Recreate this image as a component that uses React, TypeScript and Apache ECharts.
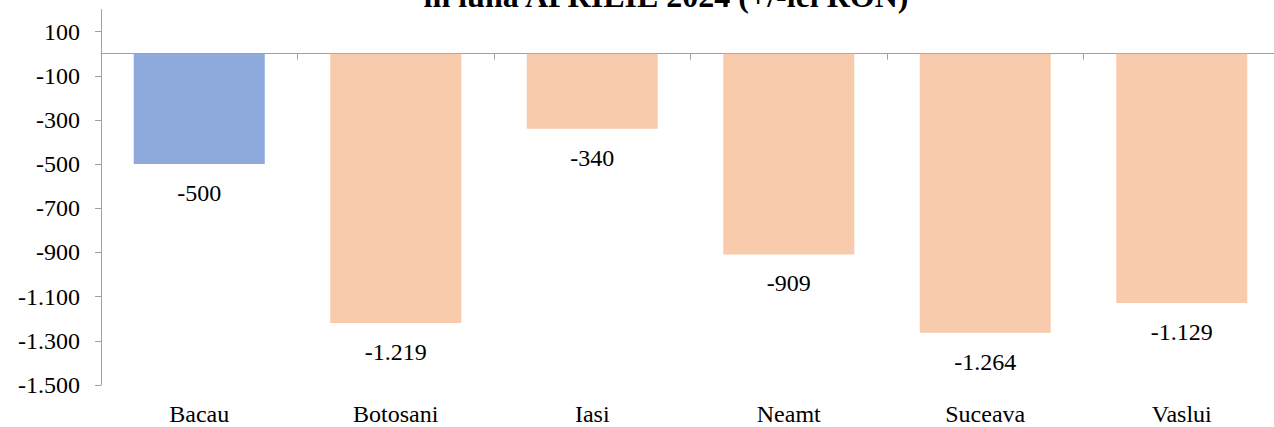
import React, { useEffect, useRef } from "react";
import * as echarts from "echarts";

const categories = ["Bacau", "Botosani", "Iasi", "Neamt", "Suceava", "Vaslui"];
const values = [-500, -1219, -340, -909, -1264, -1129];
const barColors = ["#8EA9DB", "#F8CBAD", "#F8CBAD", "#F8CBAD", "#F8CBAD", "#F8CBAD"];
const yTickValues = [100, -100, -300, -500, -700, -900, -1100, -1300, -1500];
const titleText = "în luna APRILIE 2024 (+/-lei RON)";

const fmt = (v: number) => {
  const s = Math.abs(v).toString().replace(/\B(?=(\d{3})+(?!\d))/g, ".");
  return (v < 0 ? "-" : "") + s;
};

const FONT = "Times New Roman, Liberation Serif, serif";
const AXIS_COLOR = "#A0A0A0";

export default function App() {
  const ref = useRef<HTMLDivElement>(null);
  useEffect(() => {
    if (!ref.current) return;
    const chart = echarts.init(ref.current, undefined, { renderer: "svg" });
    chart.setOption({
      animation: false,
      backgroundColor: "#ffffff",
      textStyle: { fontFamily: FONT, color: "#000" },
      graphic: [
        {
          type: "text",
          x: 666,
          y: -4,
          style: {
            text: titleText,
            fontFamily: FONT,
            fontWeight: "bold",
            fontSize: 32,
            fill: "#000",
            align: "center",
            verticalAlign: "middle",
          },
        },
      ],
      grid: {
        left: 101,
        right: -6,
        top: 9.5,
        bottom: 42,
        containLabel: false,
        outerBoundsMode: "none",
      },
      xAxis: [
        {
          type: "category",
          data: categories,
          position: "bottom",
          axisLine: { show: true, onZero: true, onZeroAxisIndex: 0, lineStyle: { color: AXIS_COLOR, width: 1 } },
          axisTick: { show: true, length: 6, lineStyle: { color: AXIS_COLOR } },
          axisLabel: { show: false },
          splitLine: { show: false },
        },
        {
          type: "category",
          data: categories,
          position: "bottom",
          axisLine: { show: false, onZero: true, onZeroAxisIndex: 0 },
          axisTick: { show: true, alignWithLabel: true, length: 6, lineStyle: { color: AXIS_COLOR } },
          axisLabel: { show: false },
          splitLine: { show: false },
        },
        {
          type: "category",
          data: categories,
          position: "bottom",
          axisLine: { show: false, onZero: false },
          axisTick: { show: false },
          axisLabel: { show: true, margin: 17, color: "#000", fontFamily: FONT, fontSize: 24 },
          splitLine: { show: false },
        },
      ],
      yAxis: {
        type: "value",
        min: -1500,
        max: 200,
        axisLine: { show: true, lineStyle: { color: AXIS_COLOR, width: 1 } },
        axisTick: { show: true, length: 6, customValues: yTickValues, lineStyle: { color: AXIS_COLOR } },
        axisLabel: {
          show: true,
          customValues: yTickValues,
          margin: 21,
          color: "#000",
          fontFamily: FONT,
          fontSize: 24,
          formatter: (v: number) => fmt(v),
        },
        splitLine: { show: false },
      },
      series: [
        {
          type: "bar",
          xAxisIndex: 0,
          barWidth: 131,
          data: values.map((v, i) => ({ value: v, itemStyle: { color: barColors[i] } })),
          label: {
            show: true,
            position: "bottom",
            distance: 17,
            color: "#000",
            fontFamily: FONT,
            fontSize: 24,
            formatter: (p: any) => fmt(p.value),
          },
        },
      ],
    });
    return () => chart.dispose();
  }, []);
  return <div ref={ref} style={{ position: "fixed", left: 0, top: 0, width: 1274, height: 427 }} />;
}
